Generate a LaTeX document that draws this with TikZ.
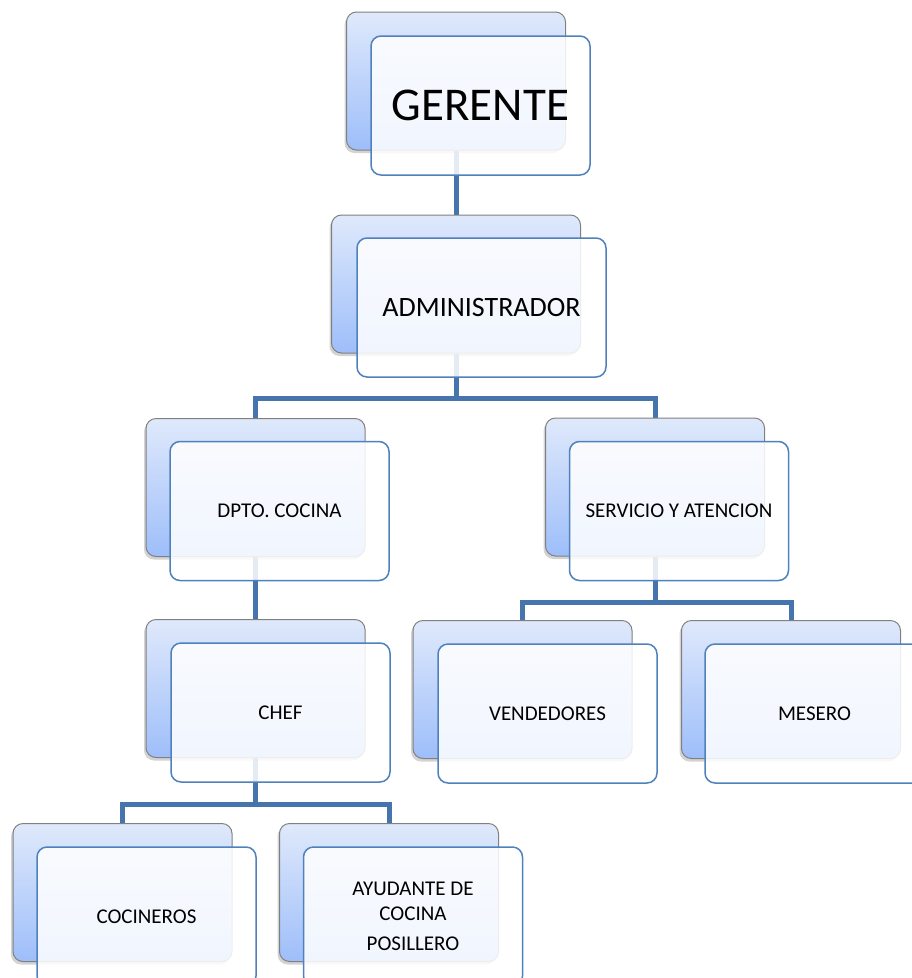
\documentclass[tikz,border=0pt]{standalone}
\usepackage{fontspec}
\setmainfont{Carlito}
\usetikzlibrary{shadows,backgrounds}
\definecolor{linkblue}{RGB}{70,116,172}
\definecolor{frameblue}{RGB}{79,129,189}
\definecolor{shadetop}{RGB}{223,233,251}
\definecolor{shadebot}{RGB}{158,190,250}
\definecolor{backedge}{RGB}{128,128,128}
\tikzset{
  backbox/.style={draw=backedge, line width=1pt, rounded corners=10pt,
    minimum width=219pt, minimum height=138pt, inner sep=0pt,
    top color=shadetop, bottom color=shadebot,
    drop shadow={shadow xshift=-2pt, shadow yshift=-3pt, opacity=0.35}},
  frontbox/.style={draw=frameblue, line width=1.5pt, rounded corners=10pt,
    minimum width=219pt, minimum height=139pt, inner sep=0pt,
    fill=white, fill opacity=0.86, text opacity=1,
    font=\fontsize{21}{25}\selectfont, align=center},
  conn/.style={draw=linkblue, line width=5pt},
}
\begin{document}
\begin{tikzpicture}[x=1pt,y=-1pt]
\useasboundingbox (0,0) rectangle (912,978);
\clip (0,0) rectangle (912,978);
% back boxes
\node[backbox] (gerB) at (456,81) {};
\node[backbox, minimum width=249pt] (admB) at (456,284) {};
\node[backbox] (dptoB) at (255.5,487.5) {};
\node[backbox] (servB) at (655,487) {};
\node[backbox] (chefB) at (255.5,688.5) {};
\node[backbox] (vendB) at (522.5,689.5) {};
\node[backbox] (mesB) at (791,689.5) {};
\node[backbox] (cocB) at (122.5,892.5) {};
\node[backbox] (ayuB) at (389,892.5) {};
% front boxes
\node[frontbox, font=\fontsize{47}{56}\selectfont] (gerF) at (480.5,105.5) {GERENTE};
\node[frontbox, minimum width=249pt, font=\fontsize{28}{34}\selectfont] (admF) at (481.5,307.5) {ADMINISTRADOR};
\node[frontbox] (dptoF) at (279.5,511) {DPTO. COCINA};
\node[frontbox] (servF) at (679,511) {SERVICIO Y ATENCION};
\node[frontbox] (chefF) at (280.5,712.5) {CHEF};
\node[frontbox] (vendF) at (547.5,713.5) {VENDEDORES};
\node[frontbox] (mesF) at (814.5,713.5) {MESERO};
\node[frontbox] (cocF) at (146.5,916.5) {COCINEROS};
\node[frontbox] (ayuF) at (413,916.5) {AYUDANTE DE\\COCINA\\[5pt]POSILLERO};
% bar levels
\coordinate (bar1) at (0,398);
\coordinate (bar2) at (0,602);
\coordinate (bar3) at (0,804);
\begin{pgfonlayer}{background}
\draw[conn] (gerB.south) -- (admB.north);
\draw[conn] (admB.south) -- (admB.south |- bar1) -| (dptoB.north);
\draw[conn] (admB.south |- bar1) -| (servB.north);
\draw[conn] (dptoB.south) -- (chefB.north);
\draw[conn] (servB.south) -- (servB.south |- bar2) -| (vendB.north);
\draw[conn] (servB.south |- bar2) -| (mesB.north);
\draw[conn] (chefB.south) -- (chefB.south |- bar3) -| (cocB.north);
\draw[conn] (chefB.south |- bar3) -| (ayuB.north);
\end{pgfonlayer}
\end{tikzpicture}
\end{document}
